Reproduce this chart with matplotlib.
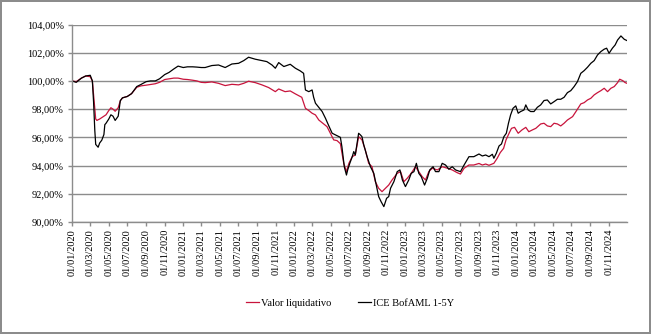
import numpy as np
import pandas as pd
import matplotlib
matplotlib.use("Agg")
import matplotlib.pyplot as plt
import matplotlib.dates as mdates
from matplotlib.ticker import FuncFormatter, MultipleLocator

# Valor liquidativo (fund NAV, base 100)
nav_dates = [
    "2020-01-01", "2020-01-15", "2020-02-01", "2020-02-15", "2020-03-01", "2020-03-08",
    "2020-03-12", "2020-03-16", "2020-03-19", "2020-03-23", "2020-03-27", "2020-04-01",
    "2020-04-08", "2020-04-15", "2020-04-22", "2020-05-01", "2020-05-08", "2020-05-15",
    "2020-05-22", "2020-06-01", "2020-06-08", "2020-06-15", "2020-07-01", "2020-07-15",
    "2020-08-01", "2020-08-15", "2020-09-01", "2020-09-15", "2020-10-01", "2020-10-15",
    "2020-11-01", "2020-11-15", "2020-12-01", "2020-12-15", "2021-01-01", "2021-01-15",
    "2021-02-01", "2021-02-15", "2021-03-01", "2021-03-14", "2021-04-05", "2021-04-27",
    "2021-05-19", "2021-06-10", "2021-07-02", "2021-07-19", "2021-08-04", "2021-08-26",
    "2021-09-17", "2021-10-09", "2021-10-31", "2021-11-11", "2021-12-02", "2021-12-19",
    "2022-01-05", "2022-01-26", "2022-02-07", "2022-02-18", "2022-03-01", "2022-03-12",
    "2022-03-23", "2022-04-03", "2022-04-19", "2022-04-30", "2022-05-11", "2022-05-22",
    "2022-06-02", "2022-06-13", "2022-06-22", "2022-06-30", "2022-07-11", "2022-07-21",
    "2022-08-01", "2022-08-12", "2022-08-23", "2022-09-03", "2022-09-14", "2022-09-25",
    "2022-10-06", "2022-10-17", "2022-10-28", "2022-11-08", "2022-11-19", "2022-12-06",
    "2022-12-17", "2022-12-28", "2023-01-08", "2023-01-21", "2023-02-04", "2023-02-15",
    "2023-02-26", "2023-03-09", "2023-03-20", "2023-03-31", "2023-04-17", "2023-05-03",
    "2023-05-20", "2023-06-05", "2023-06-21", "2023-07-02", "2023-07-14", "2023-07-30",
    "2023-08-15", "2023-09-01", "2023-09-12", "2023-09-23", "2023-10-04", "2023-10-20",
    "2023-10-31", "2023-11-10", "2023-11-21", "2023-11-29", "2023-12-09", "2023-12-17",
    "2023-12-27", "2024-01-08", "2024-01-20", "2024-02-02", "2024-02-12", "2024-02-23",
    "2024-03-06", "2024-03-22", "2024-04-02", "2024-04-13", "2024-04-24", "2024-05-05",
    "2024-05-16", "2024-05-27", "2024-06-07", "2024-06-18", "2024-07-05", "2024-07-16",
    "2024-08-01", "2024-08-12", "2024-08-23", "2024-09-03", "2024-09-14", "2024-09-25",
    "2024-10-06", "2024-10-17", "2024-10-28", "2024-11-08", "2024-11-19", "2024-11-30",
    "2024-12-07", "2024-12-17", "2024-12-25", "2024-12-31",
]
nav_values = [
    100.00, 99.95, 100.20, 100.35, 100.30, 100.00,
    99.00, 98.00, 97.30, 97.20, 97.25, 97.30,
    97.40, 97.50, 97.60, 97.90, 98.10, 98.00,
    97.85, 98.10, 98.60, 98.80, 98.90, 99.10,
    99.55, 99.65, 99.70, 99.75, 99.80, 99.90,
    100.10, 100.15, 100.20, 100.20, 100.12, 100.10,
    100.05, 100.00, 99.90, 99.88, 99.93, 99.83,
    99.67, 99.76, 99.72, 99.83, 99.98, 99.88,
    99.72, 99.53, 99.24, 99.43, 99.24, 99.29,
    99.08, 98.84, 98.06, 97.90, 97.71, 97.59,
    97.23, 97.04, 96.76, 96.29, 95.82, 95.77,
    95.55, 94.16, 93.57, 94.16, 94.63, 94.75,
    96.05, 95.82, 95.11, 94.16, 93.92, 92.86,
    92.39, 92.15, 92.39, 92.62, 92.98, 93.45,
    93.57, 92.86, 93.10, 93.45, 93.92, 93.57,
    93.22, 92.98, 93.57, 93.81, 93.69, 93.92,
    93.81, 93.69, 93.50, 93.40, 93.81, 94.04,
    94.04, 94.15, 94.04, 94.11, 94.02, 94.16,
    94.52, 94.92, 95.22, 95.82, 96.29, 96.64,
    96.71, 96.29, 96.52, 96.71, 96.40, 96.52,
    96.64, 96.95, 97.00, 96.81, 96.76, 97.00,
    96.95, 96.81, 97.00, 97.23, 97.47, 97.83,
    98.37, 98.46, 98.65, 98.77, 99.01, 99.17,
    99.31, 99.48, 99.24, 99.48, 99.60, 99.88,
    100.12, 100.02, 99.88, 99.83,
]

# ICE BofAML 1-5Y (benchmark, base 100)
idx_dates = [
    "2020-01-01", "2020-01-15", "2020-02-01", "2020-02-15", "2020-03-01", "2020-03-08",
    "2020-03-12", "2020-03-16", "2020-03-19", "2020-03-23", "2020-03-27", "2020-04-01",
    "2020-04-08", "2020-04-15", "2020-04-18", "2020-04-22", "2020-05-01", "2020-05-08",
    "2020-05-15", "2020-05-22", "2020-06-01", "2020-06-08", "2020-06-15", "2020-07-01",
    "2020-07-15", "2020-08-01", "2020-08-15", "2020-09-01", "2020-09-15", "2020-10-01",
    "2020-10-15", "2020-11-01", "2020-11-15", "2020-12-01", "2020-12-15", "2021-01-01",
    "2021-01-15", "2021-02-01", "2021-02-15", "2021-03-01", "2021-03-14", "2021-04-05",
    "2021-04-27", "2021-05-19", "2021-06-10", "2021-07-02", "2021-07-19", "2021-08-04",
    "2021-08-26", "2021-09-17", "2021-10-03", "2021-10-20", "2021-10-31", "2021-11-11",
    "2021-11-28", "2021-12-19", "2022-01-05", "2022-01-21", "2022-02-01", "2022-02-07",
    "2022-02-18", "2022-03-01", "2022-03-06", "2022-03-12", "2022-03-23", "2022-04-03",
    "2022-04-14", "2022-04-25", "2022-05-06", "2022-05-17", "2022-05-28", "2022-06-02",
    "2022-06-07", "2022-06-15", "2022-06-22", "2022-06-26", "2022-07-03", "2022-07-11",
    "2022-07-16", "2022-07-21", "2022-07-27", "2022-08-01", "2022-08-07", "2022-08-12",
    "2022-08-18", "2022-08-29", "2022-09-09", "2022-09-20", "2022-09-29", "2022-10-06",
    "2022-10-14", "2022-10-23", "2022-11-01", "2022-11-08", "2022-11-14", "2022-11-25",
    "2022-12-06", "2022-12-15", "2022-12-23", "2023-01-02", "2023-01-13", "2023-01-21",
    "2023-01-30", "2023-02-07", "2023-02-15", "2023-02-23", "2023-03-06", "2023-03-15",
    "2023-03-23", "2023-04-03", "2023-04-11", "2023-04-22", "2023-05-03", "2023-05-14",
    "2023-05-25", "2023-06-05", "2023-06-16", "2023-07-02", "2023-07-14", "2023-07-30",
    "2023-08-15", "2023-08-26", "2023-09-01", "2023-09-12", "2023-09-23", "2023-10-04",
    "2023-10-15", "2023-10-20", "2023-10-28", "2023-11-06", "2023-11-14", "2023-11-22",
    "2023-11-30", "2023-12-07", "2023-12-14", "2023-12-22", "2023-12-31", "2024-01-08",
    "2024-01-16", "2024-01-27", "2024-02-02", "2024-02-10", "2024-02-18", "2024-02-29",
    "2024-03-11", "2024-03-22", "2024-04-02", "2024-04-13", "2024-04-24", "2024-05-05",
    "2024-05-16", "2024-05-27", "2024-06-07", "2024-06-18", "2024-06-29", "2024-07-10",
    "2024-07-21", "2024-08-01", "2024-08-12", "2024-08-23", "2024-09-03", "2024-09-14",
    "2024-09-25", "2024-10-06", "2024-10-17", "2024-10-25", "2024-11-02", "2024-11-13",
    "2024-11-22", "2024-11-30", "2024-12-11", "2024-12-22", "2024-12-31",
]
idx_values = [
    100.00, 99.90, 100.20, 100.35, 100.40, 100.00,
    98.50, 96.50, 95.50, 95.40, 95.30, 95.60,
    95.80, 96.20, 96.90, 97.00, 97.30, 97.60,
    97.50, 97.20, 97.50, 98.60, 98.80, 98.90,
    99.10, 99.60, 99.75, 99.95, 100.00, 100.00,
    100.15, 100.45, 100.60, 100.85, 101.05, 100.95,
    101.00, 101.00, 100.98, 100.95, 100.95, 101.09,
    101.13, 100.95, 101.20, 101.25, 101.44, 101.68,
    101.54, 101.44, 101.37, 101.13, 100.90, 101.30,
    101.02, 101.18, 100.90, 100.71, 100.54, 99.36,
    99.24, 99.36, 98.84, 98.42, 98.13, 97.83,
    97.35, 96.81, 96.29, 96.17, 96.05, 96.00,
    95.34, 93.90, 93.33, 93.69, 94.16, 94.63,
    94.99, 94.75, 95.58, 96.29, 96.17, 96.05,
    95.46, 94.63, 93.92, 93.45, 92.51, 91.80,
    91.44, 91.09, 91.68, 91.80, 92.39, 92.86,
    93.57, 93.69, 92.98, 92.51, 92.98, 93.45,
    93.57, 94.16, 93.45, 93.22, 92.62, 93.10,
    93.69, 93.92, 93.57, 93.57, 94.16, 94.04,
    93.74, 93.92, 93.69, 93.57, 94.04, 94.63,
    94.63, 94.75, 94.82, 94.68, 94.75, 94.63,
    94.80, 94.52, 94.87, 95.39, 95.53, 96.05,
    96.29, 97.00, 97.59, 98.06, 98.23, 97.71,
    97.83, 97.94, 98.30, 97.94, 97.83, 97.83,
    98.13, 98.30, 98.61, 98.65, 98.37, 98.53,
    98.70, 98.70, 98.84, 99.17, 99.31, 99.60,
    99.95, 100.54, 100.73, 100.97, 101.25, 101.44,
    101.84, 102.08, 102.25, 102.32, 101.96, 102.32,
    102.55, 102.90, 103.19, 102.95, 102.86,
]

nav_label = "Valor liquidativo"
idx_label = "ICE BofAML 1-5Y"

plt.rcParams['font.family'] = ['Liberation Serif', 'DejaVu Serif']

fig = plt.figure(figsize=(6.51, 3.34), dpi=100)
fig.patch.set_edgecolor('#8c8c8c')
fig.patch.set_linewidth(1.5)
ax = fig.add_axes([72 / 651, 1 - 222 / 334, (627 - 72) / 651, (222 - 24.5) / 334])

ax.plot(pd.to_datetime(nav_dates), nav_values, color='#c8143c', lw=0.9, label=nav_label)
ax.plot(pd.to_datetime(idx_dates), idx_values, color='black', lw=0.9, label=idx_label)

ax.set_ylim(90, 104)
ax.set_xlim(pd.Timestamp("2020-01-01"), pd.Timestamp("2024-12-31"))
ax.yaxis.set_major_locator(MultipleLocator(2))
ax.yaxis.set_major_formatter(FuncFormatter(lambda v, p: f"{v:.2f}%".replace('.', ',')))
ax.xaxis.set_major_locator(mdates.MonthLocator(bymonth=[1, 3, 5, 7, 9, 11]))
ax.xaxis.set_major_formatter(mdates.DateFormatter('%d/%m/%Y'))

ax.grid(axis='y', color='#8c8c8c', lw=1)
ax.set_axisbelow(True)
for s in ['top', 'right']:
    ax.spines[s].set_visible(False)
for s in ['left', 'bottom']:
    ax.spines[s].set_color('#8c8c8c')
    ax.spines[s].set_linewidth(1)
ax.tick_params(axis='both', colors='#8c8c8c', labelcolor='black', labelsize=7.5,
               length=3, width=1)
ax.tick_params(axis='x', labelrotation=90, pad=2)
ax.tick_params(axis='y', pad=3)

fig.legend(loc='center', bbox_to_anchor=(350 / 651, 1 - 303 / 334), ncol=2, frameon=False,
           fontsize=7.5, handlelength=1.3, handletextpad=0.2, columnspacing=2.5)

fig.savefig("out.png", dpi=100)
